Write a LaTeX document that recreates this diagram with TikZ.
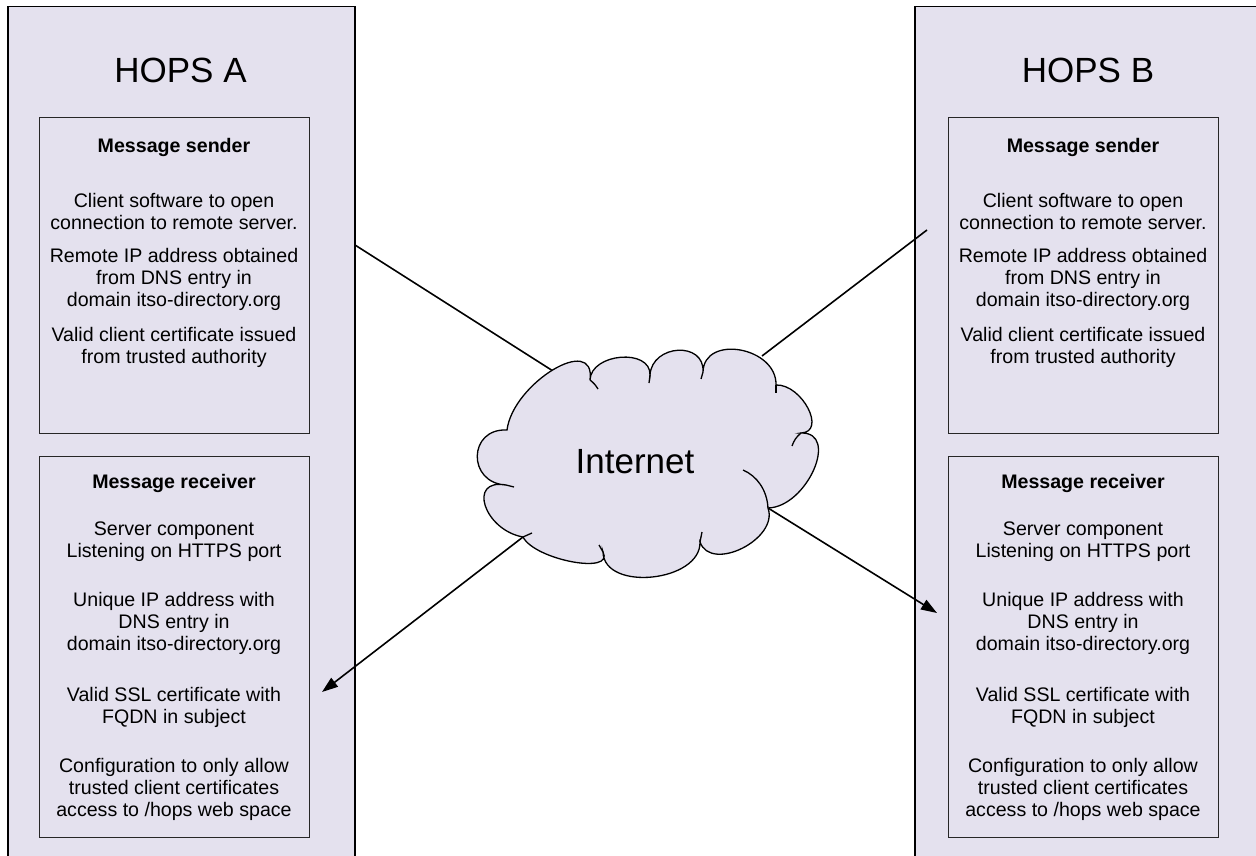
\documentclass[tikz,border=0pt]{standalone}
\usepackage{fontspec}
\setmainfont{Liberation Sans}
\usetikzlibrary{arrows.meta}
\definecolor{hopsfill}{RGB}{228,225,238}
\begin{document}
\begin{tikzpicture}[x=1pt,y=-1pt,
  outerbox/.style={draw=black, line width=1.5pt, fill=hopsfill, inner sep=0pt, anchor=north west},
  innerbox/.style={draw=black!85, line width=1.4pt, fill=hopsfill, inner sep=0pt, anchor=north west, minimum width=270pt},
  bodytext/.style={font=\fontsize{19.6}{22.4}\selectfont, align=center, anchor=base, inner sep=0pt},
  titletext/.style={font=\fontsize{19.6}{22.4}\selectfont\bfseries, align=center, anchor=base, inner sep=0pt},
  bigtext/.style={font=\fontsize{35}{40}\selectfont, anchor=base, inner sep=0pt},
  link/.style={line width=1.6pt},
  arr/.style={link, -{Triangle[length=16pt,width=11pt]}}
]
\useasboundingbox (0,0) rectangle (1256,856);
\fill[white] (0,0) rectangle (1256,856);
\clip (0,0) rectangle (1256,856);

% outer boxes
\node[outerbox, minimum width=347pt, minimum height=900pt] (hopsA) at (7,6) {};
\node[outerbox, minimum width=360pt, minimum height=900pt] (hopsB) at (914,6) {};
\node[bigtext] (titleA) at (180.5,83) {HOPS A};
\node[bigtext] (titleB) at (1088,83) {HOPS B};

% multi-line nodes: the base anchor is the baseline of the last line
\foreach \s/\bx/\cx in {A/39/174, B/948/1083} {
  \node[innerbox, minimum height=316pt] (send\s) at (\bx,117) {};
  \node[innerbox, minimum height=381pt] (recv\s) at (\bx,456) {};
  \node[titletext] (send\s t) at (\cx,153) {Message sender};
  \node[bodytext] (send\s a) at (\cx,229.4) {Client software to open\\connection to remote server.};
  \node[bodytext] (send\s b) at (\cx,306.8) {Remote IP address obtained\\from DNS entry in\\domain itso-directory.org};
  \node[bodytext] (send\s c) at (\cx,363.4) {Valid client certificate issued\\from trusted authority};
  \node[titletext] (recv\s t) at (\cx,488) {Message receiver};
  \node[bodytext] (recv\s a) at (\cx,557.4) {Server component\\Listening on HTTPS port};
  \node[bodytext] (recv\s b) at (\cx,650.8) {Unique IP address with\\DNS entry in\\domain itso-directory.org};
  \node[bodytext] (recv\s c) at (\cx,723.4) {Valid SSL certificate with\\FQDN in subject};
  \node[bodytext] (recv\s d) at (\cx,816.8) {Configuration to only allow\\trusted client certificates\\access to /hops web space};
}

% connector end points
\coordinate (fromA) at (355,245);
\coordinate (fromB) at (927,230);
\coordinate (netA) at (553,371);
\coordinate (netB) at (762,356);
\coordinate (netL) at (523,537);
\coordinate (netR) at (768,508);
\coordinate (toA) at (322,692);
\coordinate (toB) at (937,613);

\draw[link] (fromA) -- (netA);
\draw[link] (fromB) -- (netB);
\draw[arr] (netL) -- (toA);
\draw[arr] (netR) -- (toB);

% cloud
\path[draw=black, line width=1.3pt, fill=hopsfill]
  (507,430) .. controls (513,383) and (596,333) .. (590,380)
  .. controls (591,353) and (651,348) .. (650,375)
  .. controls (652,344) and (705,341) .. (703,372)
  .. controls (704,334) and (777,347) .. (776,385)
  .. controls (802,384) and (827,432) .. (801,433)
  .. controls (840,432) and (807,507) .. (768,508)
  .. controls (779,539) and (711,573) .. (700,542)
  .. controls (701,582) and (604,592) .. (603,552)
  .. controls (615,575) and (535,560) .. (523,537)
  .. controls (484,530) and (467,478) .. (506,485)
  .. controls (467,483) and (468,428) .. (507,430) -- cycle;
\begin{scope}[line width=1.3pt]
  \draw (590,380) to[bend left=10] (598,389);
  \draw (650,375) -- (649,383);
  \draw (703,372) -- (701,379);
  \draw (776,385) -- (776,393);
  \draw (801,433) to[bend right=15] (792,446);
  \draw (743,470) .. controls (757,476) and (767,490) .. (768,508);
  \draw (700,542) -- (702,532);
  \draw (603,552) -- (599,545);
  \draw (523,537) -- (532,533);
  \draw (506,485) -- (514,487);
\end{scope}
\node[bigtext] (net) at (635,473) {Internet};
\end{tikzpicture}
\end{document}
